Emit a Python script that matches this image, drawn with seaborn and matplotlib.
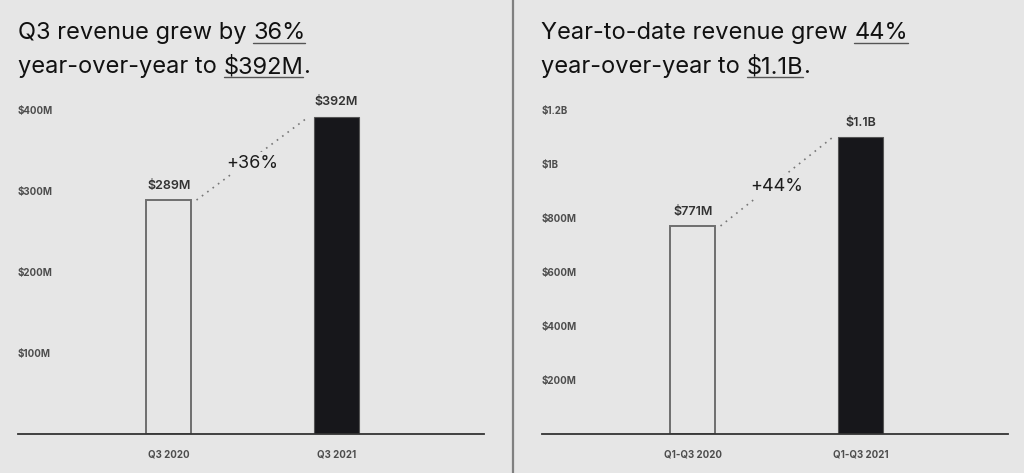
import matplotlib
matplotlib.use("Agg")
import matplotlib.pyplot as plt
import seaborn as sns
from matplotlib.lines import Line2D

# Q3 panel
q3_periods = ["Q3 2020", "Q3 2021"]
q3_revenue = [289, 392]  # $M
q3_value_labels = ["$289M", "$392M"]
q3_ticks = [100, 200, 300, 400]
q3_tick_labels = ["$100M", "$200M", "$300M", "$400M"]
q3_growth = "+36%"
q3_title = [
    [("Q3 revenue grew by ", False), ("36%", True)],
    [("year-over-year to ", False), ("$392M", True), (".", False)],
]

# year-to-date panel
ytd_periods = ["Q1-Q3 2020", "Q1-Q3 2021"]
ytd_revenue = [771, 1100]  # $M
ytd_value_labels = ["$771M", "$1.1B"]
ytd_ticks = [200, 400, 600, 800, 1000, 1200]
ytd_tick_labels = ["$200M", "$400M", "$600M", "$800M", "$1B", "$1.2B"]
ytd_growth = "+44%"
ytd_title = [
    [("Year-to-date revenue grew ", False), ("44%", True)],
    [("year-over-year to ", False), ("$1.1B", True), (".", False)],
]

BG = "#e6e6e6"
DARK = "#17171b"
W, H = 1024, 473

sns.set_style("white")
plt.rcParams["font.family"] = ["Inter", "DejaVu Sans"]


def draw_title(fig, x, lines):
    renderer = fig.canvas.get_renderer()
    for baseline, parts in zip([39, 73], lines):
        cx = x
        for text, underline in parts:
            t = fig.text(cx / W, 1 - baseline / H, text, fontsize=17,
                         ha="left", va="baseline", color="#111111")
            bb = t.get_window_extent(renderer)
            if underline:
                y = 1 - (baseline + 4.5) / H
                fig.add_artist(Line2D([bb.x0 / W, bb.x1 / W], [y, y],
                                      lw=1.0, color="#555555"))
            cx = bb.x1


def draw_panel(ax, periods, revenue, value_labels, ticks, tick_labels, growth, ymax):
    sns.barplot(x=periods, y=revenue, hue=periods, palette=[BG, DARK],
                width=0.27, legend=False, ax=ax, saturation=1)
    outline, solid = ax.patches[0], ax.patches[1]
    outline.set_facecolor("none")
    outline.set_edgecolor("#6e6e6e")
    outline.set_linewidth(1.4)
    solid.set_edgecolor("#555555")
    solid.set_linewidth(0.8)

    ax.set_facecolor(BG)
    ax.set_xlim(-0.9, 1.88)
    ax.set_ylim(0, ymax)
    sns.despine(ax=ax, left=True)
    ax.spines["bottom"].set_color("#333333")
    ax.spines["bottom"].set_linewidth(1.3)

    ax.set_yticks(ticks, tick_labels)
    ax.tick_params(axis="y", length=0, pad=0, labelsize=7, labelcolor="#4d4d4d")
    for lbl in ax.get_yticklabels():
        lbl.set_horizontalalignment("left")
        lbl.set_fontweight("bold")
    ax.tick_params(axis="x", length=0, pad=11, labelsize=7, labelcolor="#4d4d4d")
    for lbl in ax.get_xticklabels():
        lbl.set_fontweight("bold")
    ax.set_xlabel("")
    ax.set_ylabel("")

    for i, (v, lab) in enumerate(zip(revenue, value_labels)):
        ax.annotate(lab, (i, v), xytext=(0, 6), textcoords="offset points",
                    ha="center", va="bottom", fontsize=9, fontweight="semibold",
                    color="#333333")

    # dotted connector between the bar tops
    gap = 0.165
    ax.plot([gap, 1 - gap], revenue, ls=(0, (1, 3)), lw=1.2, color="#777777")
    ax.annotate(growth, (0.5, sum(revenue) / 2), xytext=(0, -3.5),
                textcoords="offset points", ha="center", va="center",
                fontsize=13, color="#1c1c1c",
                bbox=dict(boxstyle="square,pad=0.15", fc=BG, ec="none"))


fig = plt.figure(figsize=(W / 100, H / 100), dpi=100, facecolor=BG)
bottom = 39 / H
height = 340 / H
ax1 = fig.add_axes([18 / W, bottom, 466 / W, height])
ax2 = fig.add_axes([542 / W, bottom, 466 / W, height])

draw_panel(ax1, q3_periods, q3_revenue, q3_value_labels, q3_ticks,
           q3_tick_labels, q3_growth, 420)
draw_panel(ax2, ytd_periods, ytd_revenue, ytd_value_labels, ytd_ticks,
           ytd_tick_labels, ytd_growth, 1260)

draw_title(fig, 18, q3_title)
draw_title(fig, 541, ytd_title)

# divider between the two panels
fig.add_artist(Line2D([513 / W, 513 / W], [0, 1], lw=1.6, color="#808080"))

fig.savefig("out.png", dpi=100, facecolor=BG)
